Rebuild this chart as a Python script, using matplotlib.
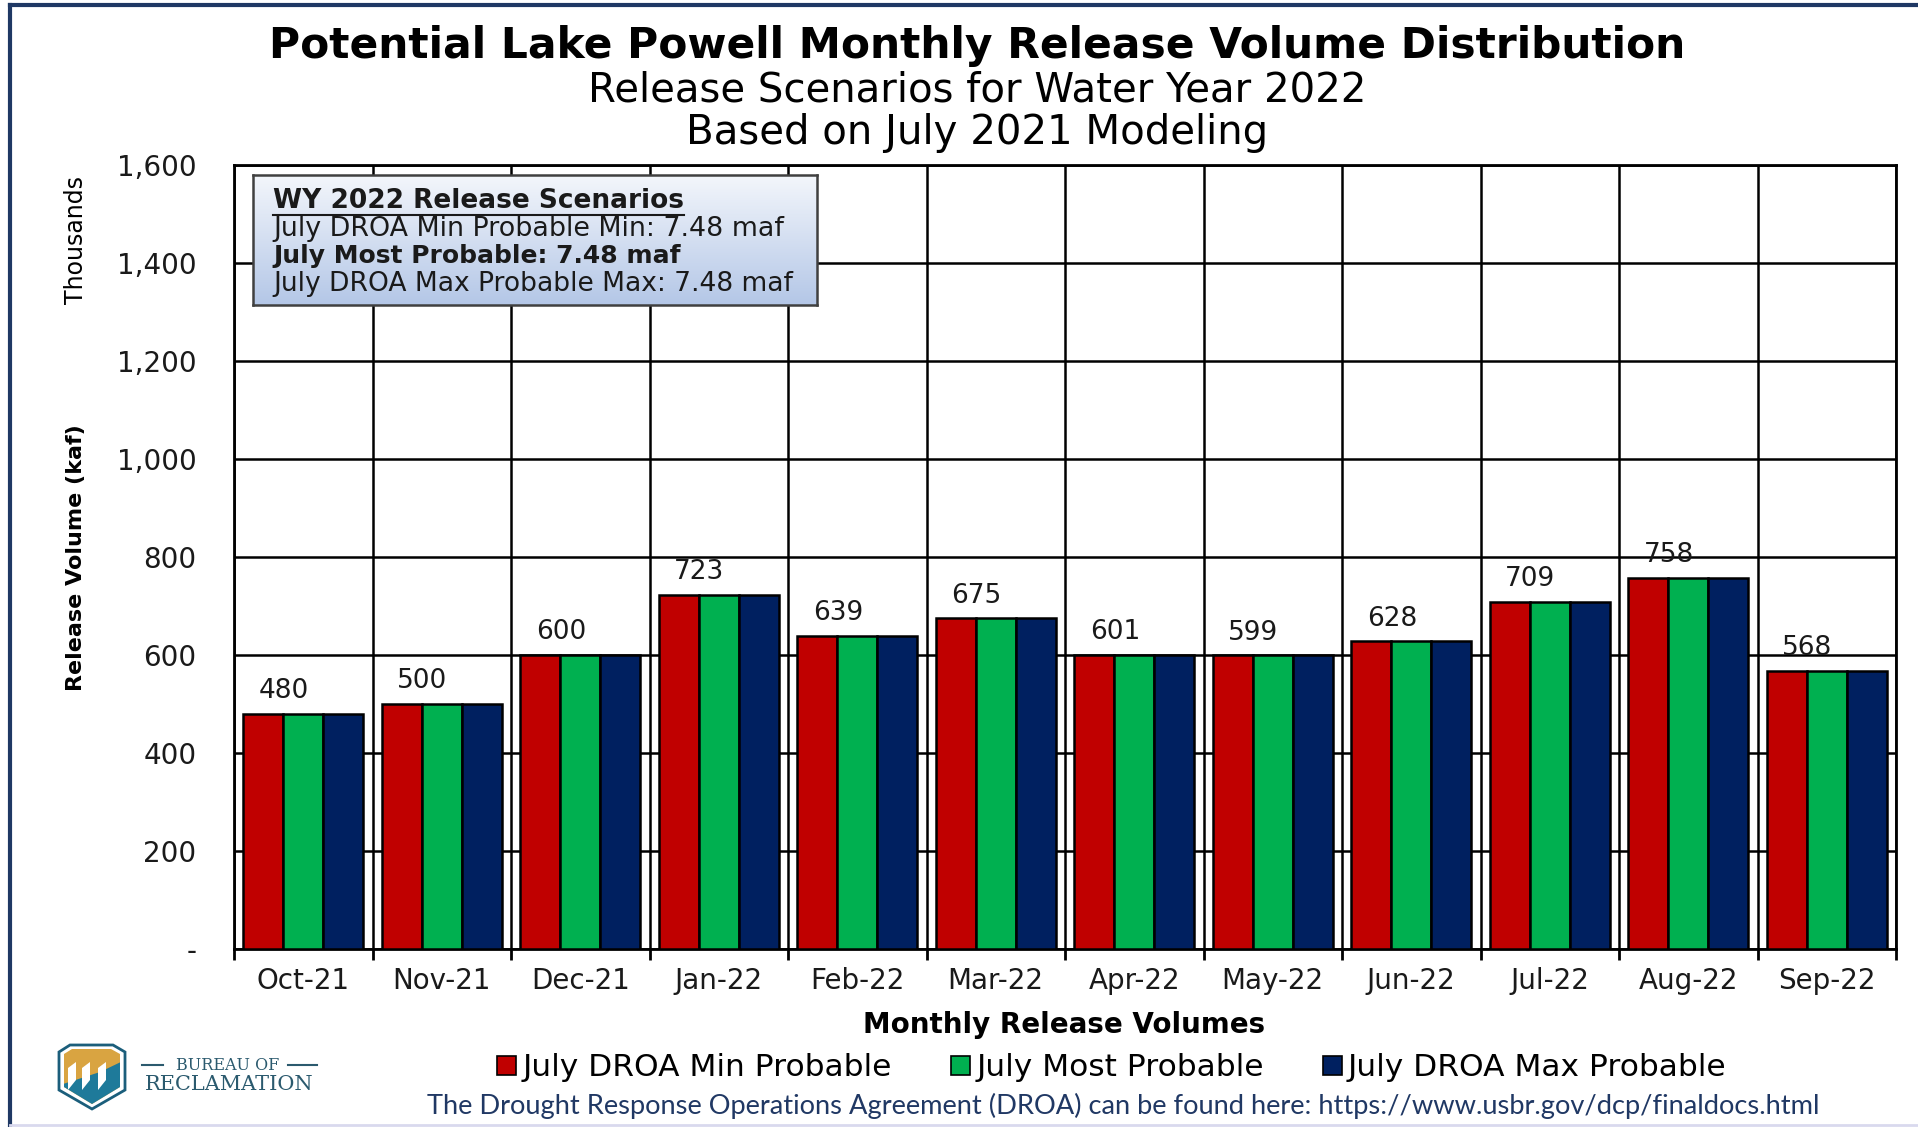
import matplotlib
matplotlib.use("Agg")
import matplotlib.pyplot as plt
import numpy as np
from matplotlib.lines import Line2D
from matplotlib.patches import Patch, Polygon
from matplotlib.ticker import FuncFormatter

# data (kaf)
months = ['Oct-21', 'Nov-21', 'Dec-21', 'Jan-22', 'Feb-22', 'Mar-22',
          'Apr-22', 'May-22', 'Jun-22', 'Jul-22', 'Aug-22', 'Sep-22']
min_probable = [480, 500, 600, 723, 639, 675, 601, 599, 628, 709, 758, 568]
most_probable = [480, 500, 600, 723, 639, 675, 601, 599, 628, 709, 758, 568]
max_probable = [480, 500, 600, 723, 639, 675, 601, 599, 628, 709, 758, 568]
series_names = ['July DROA Min Probable', 'July Most Probable',
                'July DROA Max Probable']
series_colors = ['#C00000', '#00B050', '#002060']
y_ticks = [0, 200, 400, 600, 800, 1000, 1200, 1400, 1600]
box_lines = ['WY 2022 Release Scenarios',
             'July DROA Min Probable Min: 7.48 maf',
             'July Most Probable: 7.48 maf',
             'July DROA Max Probable Max: 7.48 maf']

W, H = 1918, 1127


def fx(px):
    return px / W


def fy(py):
    return 1 - py / H


plt.rcParams['font.family'] = 'DejaVu Sans'
fig = plt.figure(figsize=(W / 100, H / 100), dpi=100)

# frame lines around the slide
fig.add_artist(Line2D([fx(10), 1], [fy(5), fy(5)], color='#1F3864', lw=3))
fig.add_artist(Line2D([fx(10), fx(10)], [fy(5), fy(1126)], color='#1F3864', lw=3))
fig.add_artist(Line2D([fx(10), 1], [fy(1125), fy(1125)], color='#D9D9EE', lw=2))

ax = fig.add_axes([fx(234), fy(949), (1896 - 234) / W, (949 - 165) / H])

x = np.arange(len(months))
w = 0.29
for i, (vals, col) in enumerate(zip([min_probable, most_probable, max_probable],
                                    series_colors)):
    ax.bar(x + (i - 1) * w, vals, w, color=col, edgecolor='black',
           linewidth=1.8, zorder=3)

for xi, v in zip(x, most_probable):
    ax.annotate(f'{v:,}', (xi - 0.14, v), xytext=(0, 7),
                textcoords='offset points', ha='center', va='bottom',
                fontsize=19, color='#1a1a1a')

ax.set_xlim(-0.5, len(months) - 0.5)
ax.set_ylim(0, 1600)
ax.set_yticks(y_ticks)
ax.yaxis.set_major_formatter(FuncFormatter(lambda v, p: '-' if v == 0 else f'{int(v):,}'))
ax.set_xticks(x)
ax.set_xticklabels(months)
ax.set_xticks(np.arange(-0.5, len(months), 1), minor=True)
ax.tick_params(axis='x', which='major', length=0, pad=13, labelsize=20,
               labelcolor='#1a1a1a')
ax.tick_params(axis='x', which='minor', length=8, width=2, direction='out')
ax.tick_params(axis='y', length=0, pad=27, labelsize=20, labelcolor='#1a1a1a')
ax.set_axisbelow(True)
ax.yaxis.grid(True, color='black', lw=1.8)
ax.xaxis.grid(True, which='minor', color='black', lw=1.8)
for s in ax.spines.values():
    s.set_linewidth(2)

# titles
fig.text(fx(977), fy(46), 'Potential Lake Powell Monthly Release Volume Distribution',
         ha='center', va='center', fontsize=30.5, fontweight='bold')
fig.text(fx(977), fy(90), 'Release Scenarios for Water Year 2022',
         ha='center', va='center', fontsize=29)
fig.text(fx(977), fy(133), 'Based on July 2021 Modeling',
         ha='center', va='center', fontsize=29)

fig.text(fx(76), fy(558), 'Release Volume (kaf)', rotation=90, ha='center',
         va='center', fontsize=16, fontweight='bold')
fig.text(fx(76), fy(240), 'Thousands', rotation=90, ha='center', va='center',
         fontsize=17)
fig.text(fx(1064), fy(1025), 'Monthly Release Volumes', ha='center',
         va='center', fontsize=20, fontweight='bold')

# scenario box with gradient fill
bx = fig.add_axes([fx(253), fy(305), (817 - 253) / W, (305 - 175) / H])
grad = np.linspace(0, 1, 100).reshape(-1, 1)
bx.imshow(grad, extent=[0, 1, 0, 1], aspect='auto',
          cmap=matplotlib.colors.LinearSegmentedColormap.from_list(
              'bx', ['#F3F6FB', '#B4C7E7']), origin='upper')
bx.set_xticks([])
bx.set_yticks([])
for s in bx.spines.values():
    s.set_color('#404040')
    s.set_linewidth(1.8)

line_y = [201, 229, 256, 284]
line_size = [19, 19.4, 18, 19.1]
txts = []
for k, (txt, py, fs) in enumerate(zip(box_lines, line_y, line_size)):
    bold = k in (0, 2)
    t = fig.text(fx(273), fy(py), txt, ha='left', va='center', fontsize=fs,
                 fontweight='bold' if bold else 'normal', color='#1a1a1a')
    txts.append(t)

fig.canvas.draw()
bb = txts[0].get_window_extent()
fig.add_artist(Line2D([bb.x0 / W, bb.x1 / W], [(bb.y0 - 1) / H, (bb.y0 - 1) / H],
                      color='#1a1a1a', lw=1.5))

# legend
handles = [Patch(facecolor=c, edgecolor='black', linewidth=1.2) for c in series_colors]
fig.legend(handles, series_names, loc='center', bbox_to_anchor=(fx(1112), fy(1068)),
           ncol=3, frameon=False, fontsize=22.5, handlelength=0.6, handleheight=0.6,
           handletextpad=0.2, columnspacing=1.9)

fig.text(fx(1123), fy(1106),
         'The Drought Response Operations Agreement (DROA) can be found here: '
         'https://www.usbr.gov/dcp/finaldocs.html',
         ha='center', va='center', fontsize=19.6, family='Lato', color='#203864')

# simple Bureau of Reclamation logo
lx = fig.add_axes([fx(50), fy(1112), 85 / W, 72 / H])
lx.set_xlim(50, 135)
lx.set_ylim(1112, 1040)
lx.axis('off')
outer = [(59, 1052), (70, 1045), (113, 1045), (125, 1052), (125, 1090), (92, 1109), (59, 1090)]
inner = [(64, 1054), (72, 1049), (111, 1049), (120, 1054), (120, 1087), (92, 1104), (64, 1087)]
lx.add_patch(Polygon(outer, closed=True, facecolor='white', edgecolor='#1B5E7B', lw=2))
clip = Polygon(inner, closed=True, facecolor='#D9A441', edgecolor='none')
lx.add_patch(clip)
water = Polygon([(60, 1085), (60, 1110), (125, 1110), (125, 1060), (100, 1072)],
                closed=True, facecolor='#1E7A9A', edgecolor='none')
lx.add_patch(water)
water.set_clip_path(clip)
for x0 in (68, 82, 98):
    cliff = Polygon([(x0, 1068), (x0 + 8, 1062), (x0 + 8, 1080), (x0, 1090)],
                    closed=True, facecolor='white', edgecolor='none')
    lx.add_patch(cliff)
    cliff.set_clip_path(clip)
fig.text(fx(228), fy(1065), 'BUREAU OF', ha='center', va='center',
         fontsize=11.5, family='DejaVu Serif', color='#2B5A6E')
for x0, x1 in ((142, 163), (288, 317)):
    fig.add_artist(Line2D([fx(x0), fx(x1)], [fy(1065), fy(1065)],
                          color='#2B5A6E', lw=1.5))
fig.text(fx(229), fy(1085), 'RECLAMATION', ha='center', va='center',
         fontsize=15, family='DejaVu Serif', color='#2B5A6E')

fig.savefig('out.png', dpi=100)
